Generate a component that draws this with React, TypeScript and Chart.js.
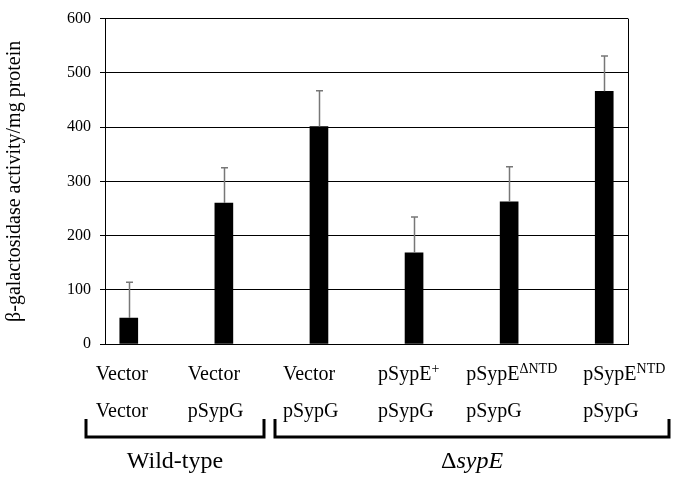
import React, { useEffect, useRef } from "react";
import { Chart, registerables } from "chart.js";
Chart.register(...registerables);

const FONT = '"Liberation Serif", "Times New Roman", serif';

const topLabels = ["Vector", "Vector", "Vector", "pSypE", "pSypE", "pSypE"];
const topSuperscripts = ["", "", "", "+", "\u0394NTD", "NTD"];
const bottomLabels = ["Vector", "pSypG", "pSypG", "pSypG", "pSypG", "pSypG"];
const values = [48, 260, 401, 168, 262, 466];
const errors = [66, 65, 66, 66, 65, 65];
const yMin = 0;
const yMax = 600;
const yStep = 100;
const yTitle = "\u03B2-galactosidase activity/mg protein";
const groupNames = ["Wild-type", "\u0394sypE"];
const groupFirst = [0, 2];
const groupLast = [1, 5];

// layout constants (pixels relative to bar centres)
const labelLeftOffset = [-33, -36, -36, -36, -43, -21];

const overlayPlugin = {
  id: "overlay",
  afterDatasetsDraw(chart: any) {
    const ctx = chart.ctx;
    const { chartArea } = chart;
    const xs = chart.scales.x;
    const ys = chart.scales.y;
    ctx.save();
    ctx.strokeStyle = "#000";
    ctx.lineWidth = 1;
    ctx.beginPath();
    ctx.moveTo(Math.round(chartArea.right) + 0.5, chartArea.top);
    ctx.lineTo(Math.round(chartArea.right) + 0.5, chartArea.bottom);
    ctx.stroke();
    ctx.strokeStyle = "#777";
    ctx.lineWidth = 1.5;
    values.forEach((v, i) => {
      const x = Math.round(xs.getPixelForValue(i)) + 0.5;
      const y0 = ys.getPixelForValue(v);
      const y1 = ys.getPixelForValue(v + errors[i]);
      ctx.beginPath();
      ctx.moveTo(x, y0);
      ctx.lineTo(x, y1);
      ctx.moveTo(x - 3.5, y1);
      ctx.lineTo(x + 3.5, y1);
      ctx.stroke();
    });
    ctx.restore();
  },
  afterDraw(chart: any) {
    const ctx = chart.ctx;
    const xs = chart.scales.x;
    ctx.save();
    ctx.fillStyle = "#000";
    ctx.textBaseline = "alphabetic";
    ctx.textAlign = "left";
    const row1 = 380;
    const row2 = 417;
    topLabels.forEach((t, i) => {
      const left = xs.getPixelForValue(i) + labelLeftOffset[i];
      ctx.font = `20px ${FONT}`;
      ctx.fillText(t, left, row1);
      const w = ctx.measureText(t).width;
      if (topSuperscripts[i]) {
        ctx.font = `14px ${FONT}`;
        ctx.fillText(topSuperscripts[i], left + w, row1 - 7);
      }
      ctx.font = `20px ${FONT}`;
      ctx.fillText(bottomLabels[i], left, row2);
    });
    const bracketY = 437;
    const bracketTop = 419;
    const startOff = [-0.45, -0.46];
    const endOff = [0.42, 0.68];
    ctx.strokeStyle = "#000";
    ctx.lineWidth = 3;
    ctx.lineCap = "butt";
    groupNames.forEach((g, gi) => {
      const x0 = Math.round(xs.getPixelForValue(groupFirst[gi] + startOff[gi]));
      const x1 = Math.round(xs.getPixelForValue(groupLast[gi] + endOff[gi]));
      ctx.beginPath();
      ctx.moveTo(x0, bracketTop);
      ctx.lineTo(x0, bracketY);
      ctx.lineTo(x1, bracketY);
      ctx.lineTo(x1, bracketTop);
      ctx.stroke();
      const cx = (x0 + x1) / 2;
      const gy = 468;
      if (g.startsWith("\u0394")) {
        ctx.font = `24px ${FONT}`;
        const d = "\u0394";
        const dw = ctx.measureText(d).width;
        ctx.font = `italic 24px ${FONT}`;
        const rest = g.slice(1);
        const rw = ctx.measureText(rest).width;
        const left = cx - (dw + rw) / 2;
        ctx.font = `24px ${FONT}`;
        ctx.fillText(d, left, gy);
        ctx.font = `italic 24px ${FONT}`;
        ctx.fillText(rest, left + dw, gy);
      } else {
        ctx.font = `24px ${FONT}`;
        ctx.textAlign = "center";
        ctx.fillText(g, cx, gy);
        ctx.textAlign = "left";
      }
    });
    ctx.restore();
  },
};

export default function App() {
  const ref = useRef<HTMLCanvasElement>(null);
  useEffect(() => {
    if (!ref.current) return;
    const chart = new Chart(ref.current, {
      type: "bar",
      data: {
        datasets: [
          {
            data: values.map((v, i) => ({ x: i, y: v })),
            backgroundColor: "#000",
            borderWidth: 0,
            barThickness: 18,
          },
        ],
      },
      options: {
        animation: false,
        responsive: false,
        layout: { padding: { top: 8, right: 48, bottom: 135, left: 0 } },
        plugins: { legend: { display: false }, tooltip: { enabled: false } },
        scales: {
          x: {
            type: "linear",
            min: -0.25,
            max: 5.25,
            offset: false,
            ticks: { display: false },
            grid: { display: false },
            border: { display: true, color: "#000", width: 1 },
            afterFit(s: any) {
              s.height = 0;
            },
          },
          y: {
            min: yMin,
            max: yMax,
            ticks: {
              stepSize: yStep,
              color: "#000",
              font: { family: FONT, size: 16 },
              padding: 9,
            },
            grid: { color: "#000", lineWidth: 1, tickLength: 5 },
            border: { display: true, color: "#000", width: 1 },
            title: {
              display: true,
              text: yTitle,
              color: "#000",
              font: { family: FONT, size: 20 },
              padding: { top: 3, bottom: 0 },
            },
            afterFit(s: any) {
              s.width = 105;
            },
          },
        },
      },
      plugins: [overlayPlugin],
    });
    return () => chart.destroy();
  }, []);
  return (
    <div style={{ position: "absolute", left: 0, top: 0, width: 676, height: 479, background: "#fff" }}>
      <canvas ref={ref} width={676} height={479} style={{ display: "block" }} />
    </div>
  );
}
